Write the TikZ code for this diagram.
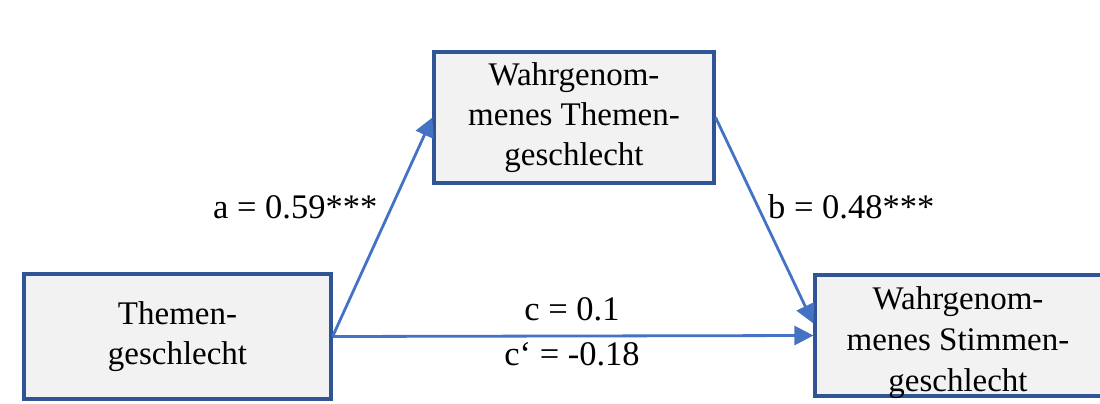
\documentclass[tikz,border=0pt]{standalone}
\usepackage{fontspec}
\setmainfont{Liberation Serif}
\usetikzlibrary{arrows.meta}
\definecolor{boxline}{HTML}{2F5597}
\definecolor{boxfill}{HTML}{F2F2F2}
\definecolor{arrowblue}{HTML}{4472C4}
\tikzset{
  varbox/.style={draw=boxline, line width=3.2pt, fill=boxfill, inner sep=0pt, align=center,
    font=\fontsize{33}{40}\selectfont},
  boxtext/.style={align=center, inner sep=0pt, font=\fontsize{33}{41}\selectfont},
  lbl/.style={inner sep=0pt, font=\fontsize{34.5}{40}\selectfont},
  conn/.style={draw=arrowblue, line width=2.8pt, -{Triangle[length=19pt,width=19pt]}}
}
\begin{document}
\begin{tikzpicture}[x=1pt,y=-1pt]
\useasboundingbox (0,0) rectangle (1100,404);
\node[varbox, minimum width=307pt, minimum height=125pt] (L) at (177.5,336.5) {Themen-\\geschlecht};
\node[varbox, minimum width=280pt, minimum height=131pt] (T) at (574,117.5) {Wahrgenom-\\menes Themen-\\geschlecht};
\node[varbox, minimum width=292pt, minimum height=121pt] (R) at (961,335.5) {};
\node[boxtext] (Rt) at (958,343) {Wahrgenom-\\menes Stimmen-\\geschlecht};
\draw[conn] (L.east) -- (T.west);
\draw[conn] (T.east) -- ([yshift=12pt]R.west);
\draw[conn] (L.east) -- (R.west);
\node[lbl, anchor=base west] (la) at (213,218) {a = 0.59***};
\node[lbl, anchor=base west] (lb) at (768,218) {b = 0.48***};
\node[lbl, anchor=base] (lc) at (572,320) {c = 0.1};
\node[lbl, anchor=base] (lc2) at (572,365) {c‘ = -0.18};
\end{tikzpicture}
\end{document}
